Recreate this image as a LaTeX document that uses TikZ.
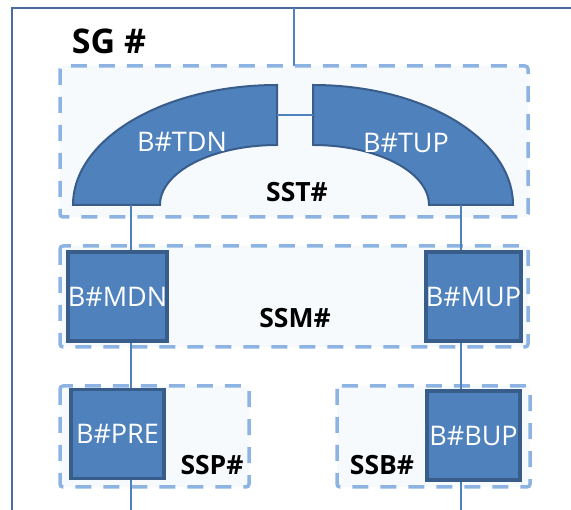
\documentclass[tikz,border=0pt]{standalone}
\usepackage{fontspec}
\setmainfont{Open Sans}
\definecolor{blockblue}{HTML}{4F81BD}
\definecolor{blockedge}{HTML}{385D8A}
\definecolor{dashblue}{HTML}{8DB3E2}
\definecolor{frameblue}{HTML}{4A6C9B}
\definecolor{paleblue}{HTML}{F7FAFD}

\begin{document}
\begin{tikzpicture}[x=1pt,y=-1pt,
    blk/.style={draw=blockedge,fill=blockblue,line width=3.5pt,minimum width=93pt,minimum height=89pt,inner sep=0pt,text=white,font=\fontsize{27}{27}\selectfont},
    grp/.style={draw=dashblue,fill=paleblue,line width=3.5pt,dash pattern=on 16pt off 12pt,rounded corners=3pt},
    arcblk/.style={draw=blockedge,fill=blockblue,line width=2pt},
    lbl/.style={font=\bfseries\fontsize{26.5}{26.5}\selectfont},
    wire/.style={draw=blockblue,line width=1.2pt}]
    \useasboundingbox (0,0) rectangle (571,510);
    \draw[frameblue,line width=2.5pt] (12,512)--(12,8)--(573,8);
    \coordinate (top) at (294,8);
    \coordinate (tdn) at (131,205); \coordinate (tup) at (461,205);
    \coordinate (tdnend) at (131,510); \coordinate (tupend) at (461,510);
    \draw[wire] (top)--(294,66);
    \draw[grp] (60,66) rectangle (528,217);
    \draw[grp] (60,246) rectangle (528,347);
    \draw[grp] (60,386) rectangle (249,487);
    \draw[grp] (337,386) rectangle (530,487);
    \draw[arcblk] (73,205) arc[start angle=180,end angle=270,x radius=204,y radius=120]
        --(277,145) arc[start angle=270,end angle=180,x radius=117,y radius=60]--cycle;
    \draw[arcblk] (313,85) arc[start angle=270,end angle=360,x radius=200,y radius=120]
        --(429,205) arc[start angle=0,end angle=-90,x radius=116,y radius=60]--cycle;
    \draw[wire] (277,115)--(313,115);
    \node[text=white,font=\fontsize{27}{27}\selectfont] (TDN) at (182,142) {B\#TDN};
    \node[text=white,font=\fontsize{27}{27}\selectfont] (TUP) at (406,143) {B\#TUP};
    \foreach \n/\x/\y in {MDN/117.5/296.5,MUP/473.5/296.5,PRE/117.5/434,BUP/473.5/435.5}
        \node[blk] (\n) at (\x,\y) {B\#\n};
    \draw[wire] (tdn)--(tdn |- MDN.north); \draw[wire] (tup)--(tup |- MUP.north);
    \draw[wire] (tdn |- MDN.south)--(tdn |- PRE.north); \draw[wire] (tup |- MUP.south)--(tup |- BUP.north);
    \draw[wire] (tdn |- PRE.south)--(tdnend); \draw[wire] (tup |- BUP.south)--(tupend);
    \node[lbl,font=\bfseries\fontsize{34}{34}\selectfont] (sg) at (109,41) {SG \#};
    \node[lbl] (sst) at (297,192) {SST\#};
    \node[lbl] (ssm) at (295,318) {SSM\#};
    \node[lbl] (ssp) at (212,465) {SSP\#};
    \node[lbl] (ssb) at (382,465) {SSB\#};
\end{tikzpicture}
\end{document}
